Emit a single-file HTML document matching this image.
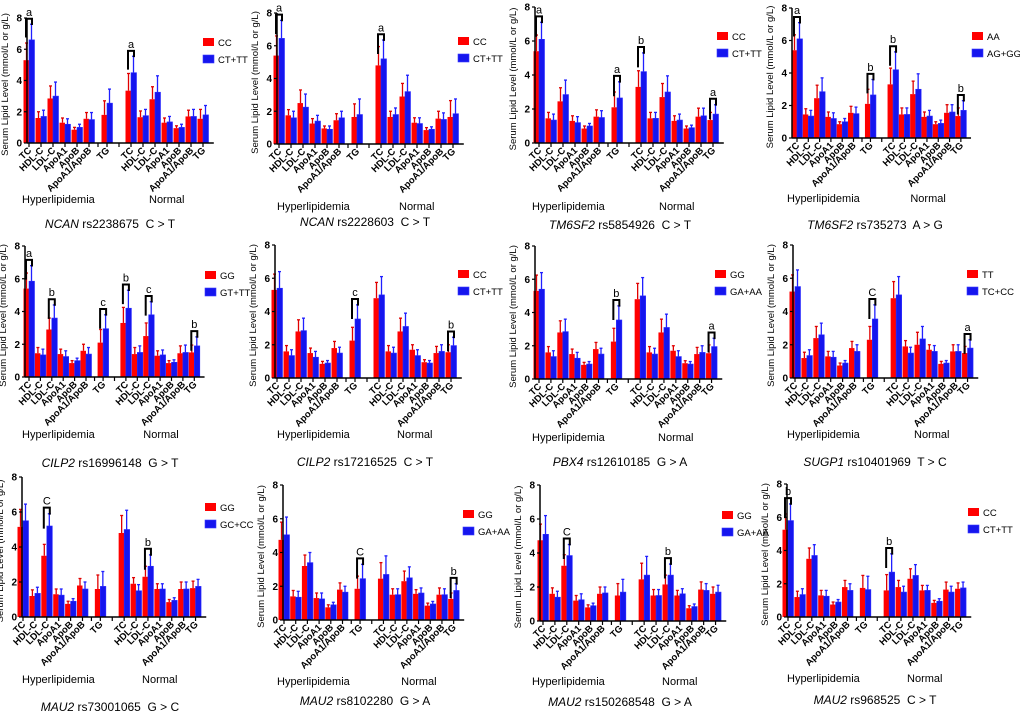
<!DOCTYPE html>
<html><head><meta charset="utf-8"><style>
body{margin:0;background:#fff;}
svg{display:block;font-family:"Liberation Sans",Arial,sans-serif;}
</style></head><body>
<svg id="fig" width="1020" height="717" viewBox="0 0 1020 717"></svg>
<script>
const categories=["TC","HDL-C","LDL-C","ApoA1","ApoB","ApoA1/ApoB","TG","TC","HDL-C","LDL-C","ApoA1","ApoB","ApoA1/ApoB","TG"];
const yTicks=[0,2,4,6,8];
const p1Red=[5.3,1.6,2.85,1.3,0.85,1.55,1.8,3.35,1.65,2.8,1.3,0.95,1.7,1.55];
const p1RedUp=[6.4,2.0,3.65,1.6,1.0,1.95,2.7,4.45,2.05,3.6,1.6,1.1,2.1,2.15];
const p1Blue=[6.6,1.7,3.0,1.2,1.0,1.5,2.55,4.5,1.75,3.25,1.35,1.0,1.7,1.8];
const p1BlueUp=[7.6,2.1,3.9,1.55,1.2,1.95,3.45,5.55,2.15,4.3,1.7,1.2,2.15,2.4];
const p2Red=[5.4,1.75,2.5,1.25,0.95,1.45,1.65,4.8,1.65,2.9,1.3,0.85,1.55,1.65];
const p2RedUp=[6.6,2.1,3.3,1.55,1.1,1.85,2.45,5.95,2.0,3.7,1.6,1.0,2.0,2.65];
const p2Blue=[6.45,1.6,2.25,1.4,0.9,1.6,1.8,5.2,1.8,3.2,1.25,0.9,1.5,1.85];
const p2BlueUp=[7.55,2.0,3.05,1.75,1.1,2.0,2.75,6.35,2.2,4.2,1.6,1.05,1.9,2.75];
const p3Red=[5.4,1.45,2.45,1.3,0.85,1.55,2.1,3.3,1.45,2.7,1.3,0.85,1.55,1.35];
const p3RedUp=[6.35,1.8,3.25,1.6,1.0,1.95,3.0,4.25,1.8,3.5,1.6,1.0,2.05,1.8];
const p3Blue=[6.1,1.35,2.85,1.2,1.0,1.5,2.65,4.2,1.45,3.0,1.35,0.9,1.6,1.7];
const p3BlueUp=[7.1,1.7,3.7,1.55,1.15,1.9,3.6,5.3,1.8,3.95,1.7,1.05,2.05,2.25];
const p4Red=[5.4,1.45,2.45,1.3,0.85,1.55,2.1,3.3,1.45,2.7,1.3,0.85,1.55,1.35];
const p4RedUp=[6.35,1.8,3.25,1.6,1.0,1.95,3.0,4.3,1.85,3.5,1.6,1.0,2.05,1.85];
const p4Blue=[6.1,1.35,2.85,1.2,1.0,1.5,2.65,4.2,1.45,3.0,1.35,0.9,1.6,1.7];
const p4BlueUp=[7.1,1.7,3.7,1.55,1.2,1.9,3.6,5.3,1.85,3.95,1.7,1.1,2.05,2.3];
const p5Red=[5.4,1.45,2.9,1.4,0.85,1.6,2.1,3.3,1.4,2.5,1.3,0.85,1.45,1.5];
const p5RedUp=[6.35,1.8,3.6,1.7,1.0,2.0,2.9,4.25,1.8,3.3,1.6,1.0,1.9,1.95];
const p5Blue=[5.85,1.35,3.6,1.25,1.0,1.4,2.95,4.2,1.5,3.8,1.35,0.9,1.5,1.9];
const p5BlueUp=[6.8,1.7,4.4,1.6,1.15,1.8,3.8,5.3,1.9,4.6,1.65,1.05,1.95,2.45];
const p6Red=[5.3,1.6,2.8,1.5,0.85,1.8,2.25,4.8,1.6,2.8,1.7,0.95,1.5,1.55];
const p6RedUp=[6.25,1.95,3.5,1.8,1.0,2.2,3.05,5.75,1.95,3.6,2.0,1.1,1.9,2.0];
const p6Blue=[5.4,1.35,2.85,1.25,0.9,1.5,3.55,5.0,1.5,3.1,1.35,0.9,1.6,1.95];
const p6BlueUp=[6.4,1.7,3.6,1.6,1.05,1.85,4.4,6.1,1.85,3.9,1.7,1.05,2.0,2.45];
const p7Red=[5.3,1.6,2.8,1.5,0.85,1.8,2.25,4.8,1.6,2.8,1.7,0.95,1.5,1.55];
const p7RedUp=[6.25,1.95,3.5,1.8,1.0,2.2,3.05,5.75,1.95,3.6,2.0,1.1,1.9,2.05];
const p7Blue=[5.4,1.35,2.85,1.25,0.9,1.5,3.55,5.0,1.5,3.1,1.35,0.9,1.6,1.95];
const p7BlueUp=[6.4,1.7,3.6,1.6,1.05,1.85,4.4,6.1,1.85,3.9,1.7,1.05,2.0,2.45];
const p8Red=[5.2,1.2,2.4,1.3,0.75,1.8,2.3,4.8,1.9,2.0,1.7,0.85,1.6,1.5];
const p8RedUp=[6.2,1.55,3.1,1.6,0.9,2.2,3.1,5.8,2.25,2.75,2.0,1.0,2.0,1.9];
const p8Blue=[5.5,1.35,2.6,1.25,0.9,1.6,3.55,5.0,1.5,2.35,1.6,0.9,1.6,1.8];
const p8BlueUp=[6.5,1.7,3.3,1.6,1.05,2.0,4.4,6.1,1.85,3.1,1.95,1.05,2.0,2.3];
const p9Red=[5.15,1.2,3.5,1.3,0.75,1.8,1.6,4.8,1.9,2.3,1.6,0.85,1.6,1.65];
const p9RedUp=[6.15,1.55,4.15,1.6,0.9,2.2,2.4,5.8,2.25,2.9,1.9,1.0,2.0,2.05];
const p9Blue=[5.5,1.35,5.2,1.25,0.9,1.6,1.75,5.0,1.5,2.9,1.6,0.95,1.6,1.75];
const p9BlueUp=[6.45,1.7,5.9,1.6,1.05,2.0,2.6,6.1,1.85,3.55,1.9,1.1,2.0,2.15];
const p10Red=[4.75,1.4,3.2,1.3,0.75,1.8,1.85,2.45,1.5,2.3,1.55,0.85,1.5,1.25];
const p10RedUp=[5.8,1.75,3.85,1.6,0.9,2.2,2.6,3.4,1.85,2.9,1.8,1.0,1.9,1.6];
const p10Blue=[5.05,1.35,3.4,1.25,0.9,1.65,2.45,2.7,1.5,2.5,1.6,0.95,1.5,1.75];
const p10BlueUp=[6.1,1.7,4.0,1.6,1.05,2.0,3.3,3.8,1.85,3.15,1.9,1.1,1.85,2.15];
const p11Red=[4.75,1.6,3.25,1.2,0.8,1.6,1.5,2.45,1.5,2.15,1.5,0.75,1.85,1.6];
const p11RedUp=[5.7,1.95,3.9,1.5,0.95,2.0,2.2,3.4,1.85,2.7,1.8,0.9,2.3,2.0];
const p11Blue=[5.1,1.4,3.85,1.25,0.9,1.65,1.7,2.7,1.5,2.7,1.6,0.85,1.8,1.7];
const p11BlueUp=[6.2,1.75,4.5,1.6,1.05,2.0,2.45,3.8,1.85,3.35,1.9,1.0,2.2,2.1];
const p12Red=[5.25,1.2,3.5,1.3,0.75,1.8,1.75,1.6,1.8,2.3,1.6,0.85,1.65,1.7];
const p12RedUp=[6.2,1.55,4.15,1.6,0.9,2.2,2.5,2.55,2.2,2.9,1.9,1.0,2.1,2.05];
const p12Blue=[5.8,1.35,3.7,1.25,0.9,1.6,1.65,2.7,1.5,2.5,1.6,0.95,1.5,1.75];
const p12BlueUp=[6.8,1.7,4.35,1.6,1.05,2.0,2.45,3.8,1.85,3.15,1.9,1.1,1.85,2.1];
const p1Sig=[[0,"a"],[7,"a"]];
const p2Sig=[[0,"a"],[7,"a"]];
const p3Sig=[[0,"a"],[6,"a"],[7,"b"],[13,"a"]];
const p4Sig=[[0,"a"],[6,"b"],[7,"b"],[13,"b"]];
const p5Sig=[[0,"a"],[2,"b"],[6,"c"],[7,"b"],[9,"c"],[13,"b"]];
const p6Sig=[[6,"c"],[13,"b"]];
const p7Sig=[[6,"b"],[13,"a"]];
const p8Sig=[[6,"C"],[13,"a"]];
const p9Sig=[[2,"C"],[9,"b"]];
const p10Sig=[[6,"C"],[13,"b"]];
const p11Sig=[[2,"C"],[9,"b"]];
const p12Sig=[[0,"b"],[7,"b"]];
const legendA=["CC","CC","CC","AA","GG","CC","GG","TT","GG","GG","GG","CC"];
const legendB=["CT+TT","CT+TT","CT+TT","AG+GG","GT+TT","CT+TT","GA+AA","TC+CC","GC+CC","GA+AA","GA+AA","CT+TT"];
const geneNames=["NCAN","NCAN","TM6SF2","TM6SF2","CILP2","CILP2","PBX4","SUGP1","MAU2","MAU2","MAU2","MAU2"];
const snpNames=[" rs2238675  C > T"," rs2228603  C > T"," rs5854926  C > T"," rs735273  A > G"," rs16996148  G > T"," rs17216525  C > T"," rs12610185  G > A"," rs10401969  T > C"," rs73001065  G > C"," rs8102280  G > A"," rs150268548  G > A"," rs968525  C > T"];

const reds=[p1Red,p2Red,p3Red,p4Red,p5Red,p6Red,p7Red,p8Red,p9Red,p10Red,p11Red,p12Red];
const redUps=[p1RedUp,p2RedUp,p3RedUp,p4RedUp,p5RedUp,p6RedUp,p7RedUp,p8RedUp,p9RedUp,p10RedUp,p11RedUp,p12RedUp];
const blues=[p1Blue,p2Blue,p3Blue,p4Blue,p5Blue,p6Blue,p7Blue,p8Blue,p9Blue,p10Blue,p11Blue,p12Blue];
const blueUps=[p1BlueUp,p2BlueUp,p3BlueUp,p4BlueUp,p5BlueUp,p6BlueUp,p7BlueUp,p8BlueUp,p9BlueUp,p10BlueUp,p11BlueUp,p12BlueUp];
const sigs=[p1Sig,p2Sig,p3Sig,p4Sig,p5Sig,p6Sig,p7Sig,p8Sig,p9Sig,p10Sig,p11Sig,p12Sig];

const layout=[
 {ax:27,y0:143,y8:18,tc:29,sw:12.0,lx:203,ly:38,gy:203,ty:228,off:0},
 {ax:277,y0:144,y8:13,tc:279,sw:12.0,lx:458,ly:37,gy:210,ty:226,off:255},
 {ax:535,y0:143,y8:7,tc:539,sw:12.0,lx:717,ly:32,gy:210,ty:229,off:510},
 {ax:792,y0:138,y8:8,tc:797,sw:11.3,lx:972,ly:32,gy:202,ty:229,off:765},
 {ax:25,y0:377,y8:246,tc:29,sw:11.4,lx:205,ly:271,gy:438,ty:467,off:0},
 {ax:275,y0:378,y8:245,tc:277,sw:12.0,lx:458,ly:270,gy:438,ty:466,off:255},
 {ax:535,y0:379,y8:246,tc:539,sw:11.9,lx:715,ly:270,gy:441,ty:466,off:510},
 {ax:793,y0:378,y8:245,tc:795,sw:11.9,lx:967,ly:270,gy:438,ty:466,off:765},
 {ax:22,y0:617,y8:477,tc:23,sw:11.9,lx:205,ly:503,gy:683,ty:711,off:0},
 {ax:283,y0:620,y8:485,tc:284,sw:11.7,lx:463,ly:510,gy:685,ty:705,off:255},
 {ax:540,y0:621,y8:485,tc:543,sw:11.9,lx:722,ly:511,gy:685,ty:706,off:510},
 {ax:787,y0:617,y8:484,tc:788,sw:11.9,lx:968,ly:508,gy:682,ty:704,off:765}
];
const NS="http://www.w3.org/2000/svg";
const fig=document.getElementById('fig');
function mk(tag,attrs,parent){const e=document.createElementNS(NS,tag);for(const k in attrs)e.setAttribute(k,attrs[k]);(parent||fig).appendChild(e);return e;}
function slotOf(i){return i<6?i:(i===6?6.5:i+1.5);}

layout.forEach((L,p)=>{
  const g=mk('g',{});
  
  
  const y=v=>L.y0-(L.y0-L.y8)*v/8;
  const x=i=>L.tc+slotOf(i)*L.sw;
  const endX=x(13)+L.sw*0.9;
  categories.forEach((c,i)=>{
    const cx=x(i);
    const rv=reds[p][i],ru=redUps[p][i],bv=blues[p][i],bu=blueUps[p][i];
    const el1=mk('line',{x1:cx-2.5,x2:cx-2.5,y1:y(rv),y2:y(ru),stroke:'#e00000','stroke-width':1.3},g);
    
    
    mk('line',{x1:cx-4,x2:cx-1,y1:y(ru),y2:y(ru),stroke:'#e00000','stroke-width':1.3},g);
    const r=mk('rect',{x:cx-5.5,y:y(rv),width:5.5,height:y(0)-y(rv),fill:'#ff0000'},g);
    
    
    const el2=mk('line',{x1:cx+2.5,x2:cx+2.5,y1:y(bv),y2:y(bu),stroke:'#2020ff','stroke-width':1.3},g);
    
    
    mk('line',{x1:cx+1,x2:cx+4,y1:y(bu),y2:y(bu),stroke:'#2020ff','stroke-width':1.3},g);
    const b=mk('rect',{x:cx,y:y(bv),width:5.5,height:y(0)-y(bv),fill:'#1515ee',stroke:'#2a2aff','stroke-width':0.6},g);
    
    
    mk('line',{x1:cx,x2:cx,y1:L.y0,y2:L.y0+4,stroke:'#000','stroke-width':1.2},g);
    const t=mk('text',{x:0,y:0,'font-size':9.5,'font-weight':'bold','text-anchor':'end',transform:`translate(${cx+3},${L.y0+8}) rotate(-45)`},g);
    t.textContent=c;
    
    
  });
  const xa=mk('line',{x1:L.ax,x2:endX,y1:L.y0,y2:L.y0,stroke:'#000','stroke-width':1.5},g);
  
  
  [ (x(5)+x(6))/2, (x(6)+x(7))/2 ].forEach(gx=>mk('line',{x1:gx,x2:gx,y1:L.y0,y2:L.y0+4,stroke:'#000','stroke-width':1.2},g));
  const ya=mk('line',{x1:L.ax,x2:L.ax,y1:L.y0,y2:L.y8,stroke:'#000','stroke-width':1.5},g);
  
  
  yTicks.forEach(v=>{
    mk('line',{x1:L.ax-3,x2:L.ax,y1:y(v),y2:y(v),stroke:'#000','stroke-width':1.2},g);
    const t=mk('text',{x:L.ax-5,y:y(v)+3.5,'font-size':10,'font-weight':'bold','text-anchor':'end'},g);
    t.textContent=v;
    
    
  });
  const yt=mk('text',{x:0,y:0,'font-size':9.5,'text-anchor':'middle',transform:`translate(${L.ax-19},${(L.y0+L.y8)/2+4}) rotate(-90)`},g);
  yt.textContent='Serum Lipid Level (mmol/L or g/L)';
  
  
  sigs[p].forEach(([i,letter])=>{
    const cx=x(i);
    const top=Math.max(redUps[p][i],blueUps[p][i])+0.35;
    const yt2=y(top);
    const br=mk('path',{d:`M${cx-3},${y(top-1.2)} L${cx-3},${yt2} L${cx+3},${yt2} L${cx+3},${y(top-0.4)}`,fill:'none',stroke:'#000','stroke-width':2},g);
    
    
    const lt=mk('text',{x:cx,y:yt2-3,'font-size':11,'text-anchor':'middle'},g);
    lt.textContent=letter;
    
    
  });
  [[legendA[p],'#ff0000'],[legendB[p],'#1515ee']].forEach(([lab,col],k)=>{
    const lg=mk('g',{},g);
    
    
    mk('rect',{x:L.lx,y:L.ly+k*17,width:11,height:8,fill:col,stroke:k?'#3a3aff':'none','stroke-width':0.6},lg);
    const t=mk('text',{x:L.lx+15,y:L.ly+k*17+8,'font-size':9.5},lg);
    t.textContent=lab;
  });
  const h=mk('text',{x:L.off+22,y:L.gy,'font-size':11},g);
  h.textContent='Hyperlipidemia';
  
  
  const n=mk('text',{x:x(8)+6,y:L.gy,'font-size':11},g);
  n.textContent='Normal';
  
  
  const tt=mk('text',{x:L.off+110,y:L.ty,'font-size':12,'text-anchor':'middle',style:'white-space:pre'},g);
  
  
  const it=mk('tspan',{'font-style':'italic'},tt);it.textContent=geneNames[p];
  const rs=mk('tspan',{},tt);rs.textContent=snpNames[p];
});
</script>
</body></html>
